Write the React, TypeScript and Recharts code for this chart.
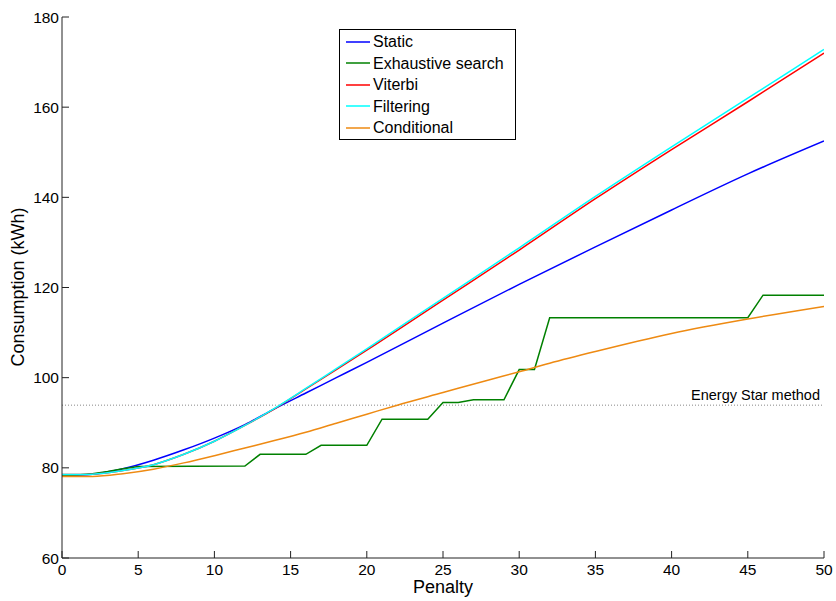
import React from "react";
import { LineChart, Line, XAxis, YAxis, ReferenceLine, Legend } from "recharts";

const FONT = "'Liberation Sans', Arial, Helvetica, sans-serif";

// x positions (Penalty) and values (Consumption, kWh)
const staticX = [0, 2, 4, 6, 8, 10, 12, 14, 16, 18, 20, 25, 30, 35, 40, 45, 50];
const staticY = [78.3, 78.6, 79.8, 81.7, 84.0, 86.6, 89.6, 93.2, 96.6, 100.0, 103.4, 112.1, 120.7, 129.0, 137.2, 145.2, 152.5];

const viterbiX = [0, 2, 4, 6, 8, 10, 12, 14, 16, 18, 20, 25, 30, 35, 40, 45, 50];
const viterbiY = [78.5, 78.6, 79.4, 80.7, 83.0, 85.9, 89.4, 93.2, 97.5, 101.8, 106.1, 117.2, 128.3, 139.7, 150.6, 161.2, 172.0];

const filteringX = [0, 2, 4, 6, 8, 10, 12, 14, 16, 18, 20, 25, 30, 35, 40, 45, 50];
const filteringY = [78.5, 78.6, 79.4, 80.7, 83.0, 85.9, 89.4, 93.3, 97.6, 102.0, 106.4, 117.6, 128.8, 140.2, 151.2, 162.0, 172.8];

const conditionalX = [0, 2, 4, 6, 8, 10, 12, 14, 16, 18, 20, 22, 25, 28, 30, 32, 35, 40, 45, 50];
const conditionalY = [78.1, 78.1, 78.7, 79.7, 81.1, 82.7, 84.4, 86.1, 87.9, 89.9, 91.9, 93.9, 96.7, 99.5, 101.3, 103.2, 105.8, 109.8, 113.0, 115.8];

const exhaustiveX = [0, 1, 2, 3, 4, 5, 12, 13, 16, 17, 20, 21, 24, 25, 26, 27, 29, 30, 31, 32, 45, 46, 50];
const exhaustiveY = [78.3, 78.4, 78.7, 79.2, 79.8, 80.3, 80.4, 83.0, 83.0, 85.0, 85.0, 90.8, 90.8, 94.5, 94.5, 95.1, 95.1, 101.8, 101.8, 113.3, 113.3, 118.3, 118.3];

const energyStar = 93.9;
const xTicks = [0, 5, 10, 15, 20, 25, 30, 35, 40, 45, 50];
const yTicks = [60, 80, 100, 120, 140, 160, 180];

const zip = (xs: number[], ys: number[]) => xs.map((x, i) => ({ x, y: ys[i] }));

const series = [
  { name: "Static", color: "#0000ff", data: zip(staticX, staticY), type: "monotone" },
  { name: "Exhaustive search", color: "#008000", data: zip(exhaustiveX, exhaustiveY), type: "linear" },
  { name: "Viterbi", color: "#ff0000", data: zip(viterbiX, viterbiY), type: "monotone" },
  { name: "Filtering", color: "#00ffff", data: zip(filteringX, filteringY), type: "monotone" },
  { name: "Conditional", color: "#ee8a12", data: zip(conditionalX, conditionalY), type: "monotone" },
];

const TICK_LEN = 7;

const YTick = (props: any) => {
  const { x, y, payload } = props;
  return (
    <g>
      <line x1={x} x2={x + TICK_LEN} y1={y} y2={y} stroke="#222" strokeWidth={1} />
      <text x={x - 3} y={y} dy="0.36em" textAnchor="end" fontSize={15.5} fontFamily={FONT} fill="#000">
        {payload.value}
      </text>
    </g>
  );
};

const XTick = (props: any) => {
  const { x, y, payload } = props;
  return (
    <g>
      <line x1={x} x2={x} y1={y} y2={y - TICK_LEN} stroke="#222" strokeWidth={1} />
      <text x={x} y={y + 17} textAnchor="middle" fontSize={15.5} fontFamily={FONT} fill="#000">
        {payload.value}
      </text>
    </g>
  );
};

const LegendBox = () => (
  <div
    style={{
      boxSizing: "border-box",
      width: 177,
      height: 111,
      border: "1px solid #000",
      background: "#fff",
      paddingTop: 1,
      fontFamily: FONT,
      fontSize: 16,
      color: "#000",
    }}
  >
    {series.map((s) => (
      <div key={s.name} style={{ display: "flex", alignItems: "center", height: 21.5, lineHeight: "21.5px" }}>
        <svg width={33} height={10} style={{ display: "block" }}>
          <line x1={6} x2={30} y1={5} y2={5} stroke={s.color} strokeWidth={1.5} />
        </svg>
        <span style={{ whiteSpace: "nowrap" }}>{s.name}</span>
      </div>
    ))}
  </div>
);

const EnergyLabel = (props: any) => {
  const vb = props.viewBox || {};
  return (
    <text
      x={vb.x + vb.width - 4}
      y={vb.y - 5}
      textAnchor="end"
      fontSize={14.5}
      fontFamily={FONT}
      fill="#000"
    >
      Energy Star method
    </text>
  );
};

export default function App() {
  return (
    <div style={{ position: "absolute", left: 0, top: 0, width: 836, height: 601, background: "#fff" }}>
      <LineChart width={836} height={601} margin={{ top: 17, right: 12, bottom: 13, left: 2 }}>
        <XAxis
          dataKey="x"
          type="number"
          domain={[0, 50]}
          ticks={xTicks}
          allowDataOverflow
          height={30}
          tickSize={0}
          tickMargin={0}
          tickLine={false}
          axisLine={{ stroke: "#222", strokeWidth: 1 }}
          tick={<XTick />}
          interval={0}
        />
        <YAxis
          type="number"
          domain={[60, 180]}
          ticks={yTicks}
          allowDataOverflow
          width={60}
          tickSize={0}
          tickMargin={0}
          tickLine={false}
          axisLine={{ stroke: "#222", strokeWidth: 1 }}
          tick={<YTick />}
          interval={0}
        />
        <ReferenceLine
          y={energyStar}
          stroke="#888"
          strokeWidth={1}
          strokeDasharray="1 2"
          label={<EnergyLabel />}
        />
        {series.map((s) => (
          <Line
            key={s.name}
            data={s.data}
            dataKey="y"
            name={s.name}
            type={s.type as any}
            stroke={s.color}
            strokeWidth={1.5}
            dot={false}
            activeDot={false}
            isAnimationActive={false}
          />
        ))}
        <Legend
          layout="vertical"
          align="center"
          verticalAlign="middle"
          content={<LegendBox />}
          wrapperStyle={{ position: "absolute", left: 339, top: 29, width: 177, height: 111 }}
        />
        <text x={443} y={593} textAnchor="middle" fontSize={18} fontFamily={FONT} fill="#000">
          Penalty
        </text>
        <text
          x={24}
          y={287}
          textAnchor="middle"
          fontSize={18}
          fontFamily={FONT}
          fill="#000"
          transform="rotate(-90 24 287)"
        >
          Consumption (kWh)
        </text>
      </LineChart>
    </div>
  );
}
